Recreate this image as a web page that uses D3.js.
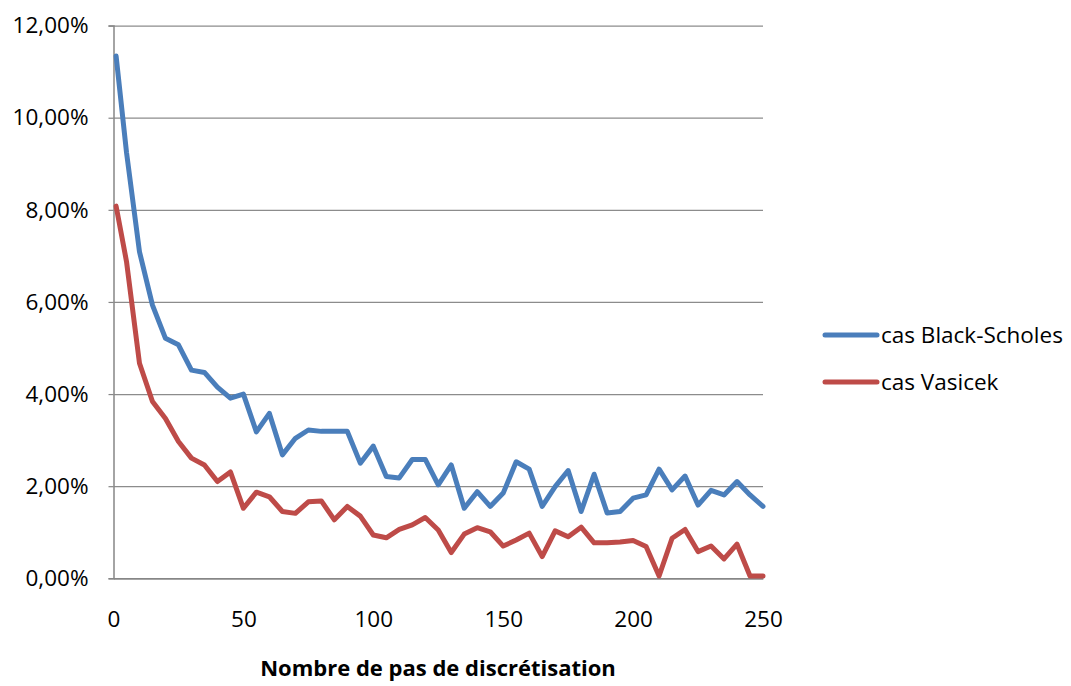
<!DOCTYPE html>
<html>
<head>
<meta charset="utf-8">
<script src="https://cdn.jsdelivr.net/npm/d3@7"></script>
<style>
  html, body { margin: 0; padding: 0; background: #ffffff; }
  svg { display: block; }
  text { font-family: "Open Sans", "Noto Sans", sans-serif; fill: #000; }
</style>
</head>
<body>
<svg id="chart" width="1071" height="686"></svg>
<script>
// Number of discretisation steps
const steps = [1, 5, 10, 15, 20, 25, 30, 35, 40, 45, 50, 55, 60, 65, 70, 75, 80, 85, 90, 95,
  100, 105, 110, 115, 120, 125, 130, 135, 140, 145, 150, 155, 160, 165, 170, 175, 180, 185,
  190, 195, 200, 205, 210, 215, 220, 225, 230, 235, 240, 245, 250];

// Relative error, Black-Scholes case
const blackScholes = [0.1134, 0.0925, 0.0709, 0.0593, 0.0521, 0.0507, 0.0452, 0.0447, 0.0415, 0.0391,
  0.0400, 0.0318, 0.0358, 0.0268, 0.0304, 0.0322, 0.0319, 0.0319, 0.0319, 0.0250,
  0.0287, 0.0221, 0.0218, 0.0258, 0.0258, 0.0203, 0.0246, 0.0152, 0.0188, 0.0156,
  0.0185, 0.0253, 0.0237, 0.0156, 0.0199, 0.0234, 0.0145, 0.0226, 0.0142, 0.0145,
  0.0174, 0.0181, 0.0237, 0.0192, 0.0222, 0.0159, 0.0191, 0.0181, 0.0210, 0.0181, 0.0156];

// Relative error, Vasicek case
const vasicek = [0.0808, 0.0688, 0.0467, 0.0384, 0.0347, 0.0297, 0.0261, 0.0246, 0.0210, 0.0231,
  0.0152, 0.0187, 0.0177, 0.0145, 0.0141, 0.0166, 0.0168, 0.0127, 0.0156, 0.0135,
  0.0094, 0.0088, 0.0106, 0.0116, 0.0132, 0.0105, 0.0056, 0.0096, 0.0110, 0.0101,
  0.0070, 0.0083, 0.0098, 0.0047, 0.0103, 0.0090, 0.0111, 0.0077, 0.0077, 0.0079,
  0.0082, 0.0069, 0.0005, 0.0087, 0.0106, 0.0058, 0.0070, 0.0042, 0.0074, 0.0005, 0.0005];

const seriesNames = ["cas Black-Scholes", "cas Vasicek"];
const seriesColors = ["#4a7ebb", "#be4b48"];
const xTicks = [0, 50, 100, 150, 200, 250];
const yTicks = [0, 0.02, 0.04, 0.06, 0.08, 0.10, 0.12];
const xTitle = "Nombre de pas de discrétisation";

const svg = d3.select("#chart");
const plot = { left: 113.5, right: 763, top: 25.6, bottom: 578.3 };

const x = d3.scaleLinear().domain([0, 250]).range([plot.left, plot.right]);
const y = d3.scaleLinear().domain([0, 0.12]).range([plot.bottom, plot.top]);

const fr = d3.formatLocale({ decimal: ",", thousands: " ", grouping: [3], currency: ["", " €"], percent: "%" });
const pct = fr.format(".2%");

// horizontal gridlines
const grid = svg.append("g")
  .attr("transform", `translate(${plot.left},0)`)
  .call(d3.axisLeft(y).tickValues(yTicks).tickSize(-(plot.right - plot.left)).tickFormat(""));
grid.select(".domain").remove();
grid.selectAll(".tick line").attr("stroke", "#8c8c8c").attr("stroke-width", 1.2);

// y axis
const yAxis = svg.append("g")
  .attr("transform", `translate(${plot.left},0)`)
  .call(d3.axisLeft(y).tickValues(yTicks).tickSize(5).tickPadding(20).tickFormat(pct));
yAxis.select(".domain").attr("stroke", "#868686").attr("stroke-width", 1.5);
yAxis.selectAll(".tick line").attr("stroke", "#868686").attr("stroke-width", 1.2);
yAxis.selectAll(".tick text")
  .style("font-family", '"Open Sans", sans-serif')
  .style("font-size", "22.5px")
  .attr("fill", "#000");

// x axis
const xAxis = svg.append("g")
  .attr("transform", `translate(0,${plot.bottom})`)
  .call(d3.axisBottom(x).tickValues(xTicks).tickSize(0).tickPadding(33).tickFormat(d3.format("d")));
xAxis.select(".domain").attr("stroke", "#868686").attr("stroke-width", 1.5);
xAxis.selectAll(".tick text")
  .style("font-family", '"Open Sans", sans-serif')
  .style("font-size", "22.5px")
  .attr("fill", "#000");

// series lines
const seriesData = [blackScholes, vasicek];
const line = d3.line()
  .x((d, i) => x(steps[i]))
  .y(d => y(d));

seriesData.forEach((vals, k) => {
  svg.append("path")
    .datum(vals)
    .attr("fill", "none")
    .attr("stroke", seriesColors[k])
    .attr("stroke-width", 5)
    .attr("stroke-linejoin", "round")
    .attr("stroke-linecap", "round")
    .attr("d", line);
});

// legend
const legend = svg.append("g");
seriesNames.forEach((name, k) => {
  const ly = 335 + k * 47;
  legend.append("line")
    .attr("x1", 825).attr("x2", 877)
    .attr("y1", ly).attr("y2", ly)
    .attr("stroke", seriesColors[k])
    .attr("stroke-width", 5)
    .attr("stroke-linecap", "round");
  legend.append("text")
    .attr("x", 881).attr("y", ly)
    .attr("dy", "0.35em")
    .style("font-size", "22.5px")
    .text(name);
});

// x axis title
svg.append("text")
  .attr("x", 438).attr("y", 676)
  .attr("text-anchor", "middle")
  .style("font-size", "22px")
  .style("font-weight", "bold")
  .text(xTitle);
</script>
</body>
</html>
